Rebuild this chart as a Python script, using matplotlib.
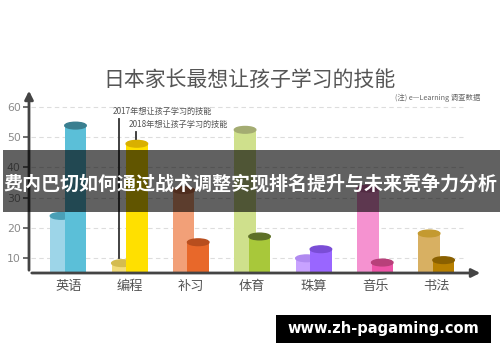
import matplotlib
matplotlib.use("Agg")
import matplotlib.pyplot as plt
from matplotlib.patches import Ellipse, Rectangle
import numpy as np

plt.rcParams['font.family'] = ['Noto Sans CJK SC', 'DejaVu Sans']

categories = ['英语', '编程', '补习', '体育', '珠算', '音乐', '书法']
values_2017 = [24, 8.4, 32.5, 52.4, 10, 33, 18.2]
values_2018 = [53.8, 47.8, 15.3, 17.2, 13, 8.6, 9.4]
yticks = [10, 20, 30, 40, 50, 60]

body_2017 = ['#9dd5e8', '#f2dc7a', '#f2a078', '#cfe08c', '#c8a2ff', '#f592d0', '#d8b062']
top_2017 = ['#4a9fb6', '#d4bc50', '#d07850', '#a4ac72', '#b08af0', '#d870b0', '#c49a30']
body_2018 = ['#5bbfd8', '#ffe000', '#e8682a', '#a8c83a', '#9966ff', '#ee55a8', '#b88000']
top_2018 = ['#3a7f90', '#d9b000', '#b84e1e', '#5e7028', '#7a4dd6', '#b8407a', '#8a6000']

title = '日本家长最想让孩子学习的技能'
note = '(注) e—Learning 调查数据'
label_2017 = '2017年想让孩子学习的技能'
label_2018 = '2018年想让孩子学习的技能'
banner = '费内巴切如何通过战术调整实现排名提升与未来竞争力分析'
site = 'www.zh-pagaming.com'

W, H = 500, 362
fig = plt.figure(figsize=(5, 3.62), dpi=100)
fig.patch.set_facecolor('white')

ax = fig.add_axes([29 / W, (H - 273) / H, (483 - 29) / W, (273 - 88) / H])
x = np.arange(len(categories))
width = 0.35
off = 0.118
ymin, ymax = 5.15, 66.2
ax.set_xlim(-0.64, 6.76)
ax.set_ylim(ymin, ymax)

# grid
ax.hlines(yticks, -0.6, 6.43, colors='#dddddd', linestyles=(0, (4, 3)), linewidth=0.8, zorder=0)

eh = 2.2
for i in range(len(categories)):
    # 2017 behind
    ax.bar(x[i] - off, values_2017[i], width=width, bottom=0, color=body_2017[i], zorder=2)
    ax.add_patch(Ellipse((x[i] - off, values_2017[i]), width, eh, color=top_2017[i], zorder=2.1))
    # 2018 in front
    ax.bar(x[i] + off, values_2018[i], width=width, bottom=0, color=body_2018[i], zorder=3)
    ax.add_patch(Ellipse((x[i] + off, values_2018[i]), width, eh, color=top_2018[i], zorder=3.1))

for s in ax.spines.values():
    s.set_visible(False)

# axes lines with arrows
ax.annotate('', xy=(0, 1.0), xycoords='axes fraction', xytext=(0, 0), textcoords='axes fraction',
            arrowprops=dict(arrowstyle='-|>,head_width=0.25,head_length=0.5', color='#444444', lw=2), zorder=5)
ax.annotate('', xy=(1.0, 0), xycoords='axes fraction', xytext=(0, 0), textcoords='axes fraction',
            arrowprops=dict(arrowstyle='-|>,head_width=0.25,head_length=0.5', color='#444444', lw=2), zorder=5)

ax.set_yticks(yticks)
ax.set_yticklabels([str(t) for t in yticks], color='#8a8a8a', fontsize=7.8, family='DejaVu Sans')
ax.tick_params(axis='y', length=4, width=1.2, color='#555555', pad=2)
ax.set_xticks(x)
ax.set_xticklabels(categories, color='#555555', fontsize=9.5)
ax.tick_params(axis='x', length=0, pad=5)
ax.set_facecolor('none')

# annotations
ax.plot([0.83, 0.83], [10.2, 55.9], color='#333333', lw=1.3, zorder=4)
ax.text(1.53, 58.6, label_2017, ha='center', va='center', fontsize=5.9, color='#555555')
ax.plot([1.1, 1.1], [49.4, 51.7], color='#333333', lw=1.3, zorder=4)
ax.text(1.8, 54.1, label_2018, ha='center', va='center', fontsize=5.9, color='#555555')

# title and note
fig.text(249 / W, 1 - 80 / H, title, ha='center', va='center', fontsize=15, color='#555555')
fig.text(480 / W, 1 - 98 / H, note, ha='right', va='center', fontsize=5.3, color='#666666')

# banner overlay
fig.patches.append(Rectangle((3 / W, (H - 212) / H), 1, 62 / H, transform=fig.transFigure,
                             facecolor='black', alpha=0.62, zorder=10))
fig.text(250 / W, 1 - 184 / H, banner, ha='center', va='center', fontsize=13.7,
         color='white', fontweight='bold', zorder=11)

# site box
fig.patches.append(Rectangle((276 / W, (H - 343) / H), 215 / W, 28 / H, transform=fig.transFigure,
                             facecolor='black', zorder=10))
fig.text(383 / W, 1 - 329 / H, site, ha='center', va='center', fontsize=10.5,
         color='white', fontweight='bold', family='DejaVu Sans', zorder=11)

fig.savefig('out.png', dpi=100)
